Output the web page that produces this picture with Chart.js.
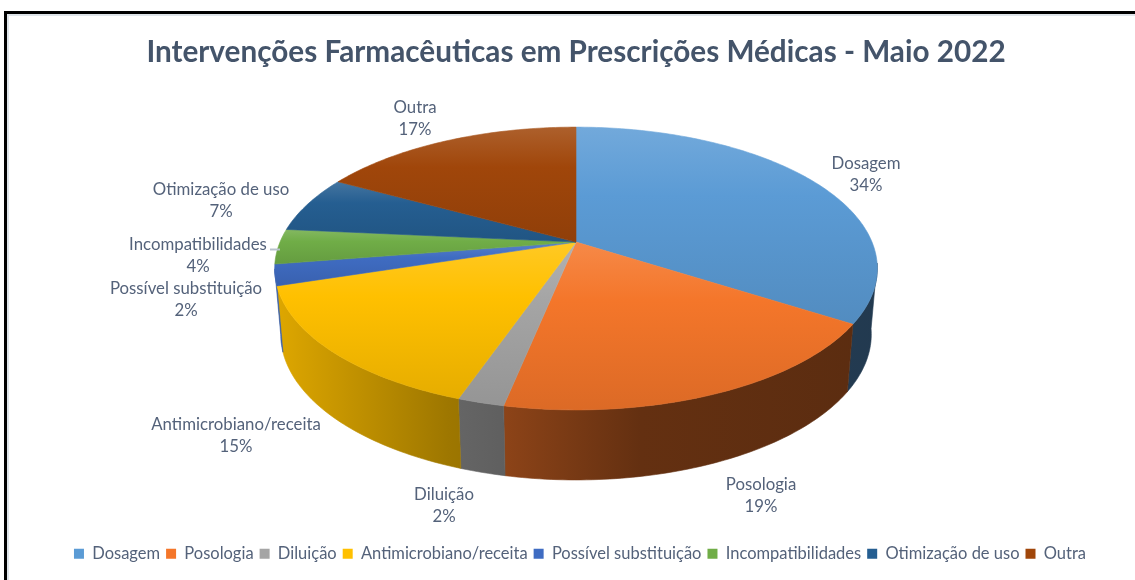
<!DOCTYPE html>
<html lang="pt">
<head>
<meta charset="utf-8">
<title>Intervenções Farmacêuticas</title>
<script src="https://cdn.jsdelivr.net/npm/chart.js@4"></script>
<style>
    html, body { margin: 0; background: #fff; overflow: hidden; }
    #frame { position: absolute; left: 4px; top: 11px; width: 1131px; height: 569px;
             border-top: 3px solid #000; border-left: 3px solid #000; }
    #frame div { height: 100%; border-top: 2px solid #dfe5ea; border-left: 2px solid #dfe5ea; }
    canvas { position: absolute; left: 0; top: 0; }
</style>
</head>
<body>
<div id="frame"><div></div></div>
<canvas id="chart" width="1135" height="580"></canvas>
<script>
const chartTitle = "Intervenções Farmacêuticas em Prescrições Médicas - Maio 2022";
const categories = ["Dosagem", "Posologia", "Diluição", "Antimicrobiano/receita",
    "Possível substituição", "Incompatibilidades", "Otimização de uso", "Outra"];
// the labels show them rounded
const shares = [34.1, 19.1, 2.1, 14.8, 2.4, 4.0, 6.5, 17.0];
const sliceColors = ["#5b9bd5", "#f4762a", "#a5a5a5", "#ffc000", "#3f6cc2", "#70ad47", "#255e91", "#a0460a"];

const textColor = "#54627a";

// centre of each data label (name line), hand placed like in the original
const labelSpots = [[866, 164], [761, 485], [444, 495], [236, 425], [186, 289], [198, 245], [221, 190], [415, 108]];

// look of the tilted pie
const pieRadius = 296;
const squash = 0.461;
const perspective = 0.187;
const pieShiftY = -68;
const wallDrop = 65;
const wallShrinkX = 0.98;
const wallGrowY = 1.03;
// only this part of the rim faces the viewer
const wallFrom = 0.15;
const wallTo = Math.PI - 0.19;
// how dark the side wall gets from left to right
const wallLight = [[0, 0.9], [0.3, 0.62], [0.38, 0.58], [0.6, 0.41], [1, 0.37]];
const legendNudge = 4;

function mix(hex, target, amount) {
    const n = parseInt(hex.slice(1), 16);
    const parts = [n >> 16, (n >> 8) & 255, n & 255];
    return "rgb(" + parts.map(c => Math.round(c + (target - c) * amount)).join(",") + ")";
}

function rim(arc, angle, lower) {
    const d = 1 - perspective * Math.sin(angle);
    const x = pieRadius * Math.cos(angle) / d;
    const y = pieRadius * squash * Math.sin(angle) / d;
    const cy = arc.y + pieShiftY;
    if (lower) return [arc.x + x * wallShrinkX, cy + wallDrop + y * wallGrowY];
    return [arc.x + x, cy + y];
}

function sampleAngles(start, end) {
    const list = [];
    const steps = Math.max(4, Math.ceil((end - start) * 60));
    for (let i = 0; i <= steps; i++) {
        list.push(start + (end - start) * i / steps);
    }
    return list;
}

function drawWall(ctx, arc, color) {
    const start = Math.max(arc.startAngle, wallFrom);
    const end = Math.min(arc.endAngle, wallTo);
    if (end <= start) return;

    const angles = sampleAngles(start, end);
    const left = rim(arc, Math.PI, false)[0];
    const right = rim(arc, 0, false)[0];
    const grad = ctx.createLinearGradient(left - 25, 0, right + 25, 0);
    wallLight.forEach(s => grad.addColorStop(s[0], mix(color, 0, 1 - s[1])));

    ctx.beginPath();
    angles.forEach((a, i) => {
        const p = rim(arc, a, false);
        if (i === 0) ctx.moveTo(p[0], p[1]); else ctx.lineTo(p[0], p[1]);
    });
    angles.slice().reverse().forEach(a => {
        const p = rim(arc, a, true);
        ctx.lineTo(p[0], p[1]);
    });
    ctx.closePath();
    ctx.fillStyle = grad;
    ctx.strokeStyle = grad;
    ctx.lineWidth = 0.6;
    ctx.fill();
    ctx.stroke();
}

function drawTop(ctx, arc, color) {
    const points = sampleAngles(arc.startAngle, arc.endAngle).map(a => rim(arc, a, false));
    const cx = arc.x, cy = arc.y + pieShiftY;
    const ys = points.map(p => p[1]).concat(cy);
    const top = Math.min(...ys), bottom = Math.max(...ys);

    const grad = ctx.createLinearGradient(0, top, 0, bottom);
    grad.addColorStop(0, mix(color, 255, 0.14));
    grad.addColorStop(0.35, color);
    grad.addColorStop(1, mix(color, 0, 0.1));

    ctx.beginPath();
    ctx.moveTo(cx, cy);
    points.forEach(p => ctx.lineTo(p[0], p[1]));
    ctx.closePath();
    ctx.fillStyle = grad;
    ctx.strokeStyle = grad;
    ctx.lineWidth = 0.6;
    ctx.fill();
    ctx.stroke();
}

const tiltedPie = {
    id: "tiltedPie",
    afterLayout(chart) {
        chart.legend.left += legendNudge;
        chart.legend.right += legendNudge;
    },
    beforeDatasetsDraw(chart) {
        const ctx = chart.ctx;
        const arcs = chart.getDatasetMeta(0).data;
        ctx.save();
        arcs.forEach((arc, i) => drawWall(ctx, arc, sliceColors[i]));
        arcs.forEach((arc, i) => drawTop(ctx, arc, sliceColors[i]));
        ctx.restore();
        return false;
    },
    afterDraw(chart) {
        const ctx = chart.ctx;
        ctx.save();
        ctx.fillStyle = textColor;
        ctx.font = "16.8px Lato";
        ctx.textAlign = "center";
        ctx.textBaseline = "middle";
        categories.forEach((name, i) => {
            const spot = labelSpots[i];
            ctx.fillText(name, spot[0], spot[1]);
            ctx.fillText(Math.round(shares[i]) + "%", spot[0], spot[1] + 22);
        });
        // little leader line next to Incompatibilidades
        ctx.strokeStyle = "#b8c2cc";
        ctx.lineWidth = 2;
        ctx.beginPath();
        ctx.moveTo(270, 249.5);
        ctx.lineTo(280, 249.5);
        ctx.stroke();
        ctx.restore();
    }
};

new Chart(document.getElementById("chart"), {
    type: "pie",
    data: {
        labels: categories,
        datasets: [{
            data: shares,
            backgroundColor: sliceColors,
            radius: pieRadius,
            borderWidth: 0
        }]
    },
    options: {
        responsive: false,
        animation: false,
        layout: { padding: { left: 17, top: 35, bottom: 8 } },
        plugins: {
            title: {
                display: true,
                text: chartTitle,
                color: "#44546a",
                font: { family: "Lato", size: 29.7, weight: "bold" },
                padding: { top: 0, bottom: 10 }
            },
            legend: {
                position: "bottom",
                labels: {
                    color: textColor,
                    font: { family: "Lato", size: 16.5 },
                    boxWidth: 10,
                    boxHeight: 10,
                    padding: 6
                }
            },
            tooltip: { enabled: false }
        }
    },
    plugins: [tiltedPie]
});
</script>
</body>
</html>
